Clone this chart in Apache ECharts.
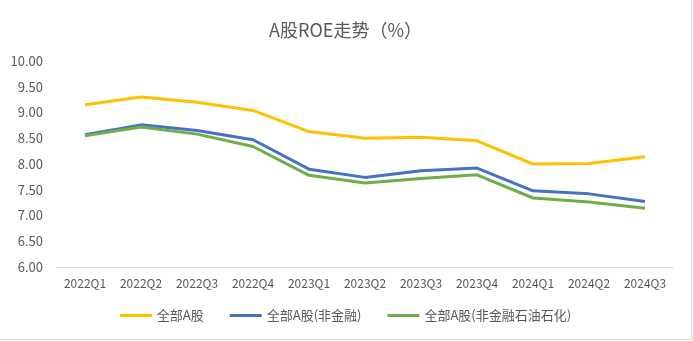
<!DOCTYPE html>
<html><head><meta charset="utf-8">
<script src="https://cdn.jsdelivr.net/npm/echarts@6/dist/echarts.min.js"></script>
<style>html,body{margin:0;padding:0;background:#fff}#c{width:691px;height:339px;border-right:1px solid #d9d9d9;border-bottom:1px solid #d9d9d9}</style>
</head><body><div id="c"></div>
<script>
const categories = ['2022Q1','2022Q2','2022Q3','2022Q4','2023Q1','2023Q2','2023Q3','2023Q4','2024Q1','2024Q2','2024Q3'];
const allA = [9.15,9.30,9.20,9.04,8.63,8.50,8.52,8.45,8.00,8.01,8.14];
const nonFin = [8.57,8.76,8.65,8.47,7.90,7.74,7.87,7.92,7.48,7.42,7.27];
const nonFinPetro = [8.55,8.72,8.58,8.34,7.78,7.63,7.72,7.79,7.34,7.26,7.14];
const names = ['全部A股','全部A股(非金融)','全部A股(非金融石油石化)'];
const font = '"Noto Sans CJK SC", sans-serif';
const chart = echarts.init(document.getElementById('c'));
const mk = (n, d, c) => ({name:n, type:'line', data:d, symbol:'none', smooth:false,
  lineStyle:{width:3, color:c}, itemStyle:{color:c}});
chart.setOption({
  animation:false,
  title:{text:'A股ROE走势（%）', left:'center', top:16, textStyle:{fontFamily:font, fontSize:18, fontWeight:'normal', color:'#595959'}},
  grid:{left:57, right:18, top:61, bottom:72},
  legend:{bottom:12, itemWidth:32, itemHeight:3, itemGap:26, icon:'rect',
    textStyle:{fontFamily:font, fontSize:13, color:'#595959'}},
  xAxis:{type:'category', data:categories, boundaryGap:true,
    axisLine:{lineStyle:{color:'#d9d9d9'}}, axisTick:{show:false},
    axisLabel:{fontFamily:font, fontSize:12, color:'#595959', margin:10, interval:0}},
  yAxis:{type:'value', min:6, max:10, interval:0.5,
    axisLine:{show:false}, axisTick:{show:false}, splitLine:{show:false},
    axisLabel:{fontFamily:font, fontSize:13, color:'#595959', margin:14, formatter:v=>v.toFixed(2)}},
  series:[mk(names[0], allA, '#FFC000'), mk(names[1], nonFin, '#4472C4'), mk(names[2], nonFinPetro, '#70AD47')]
});
</script></body></html>
